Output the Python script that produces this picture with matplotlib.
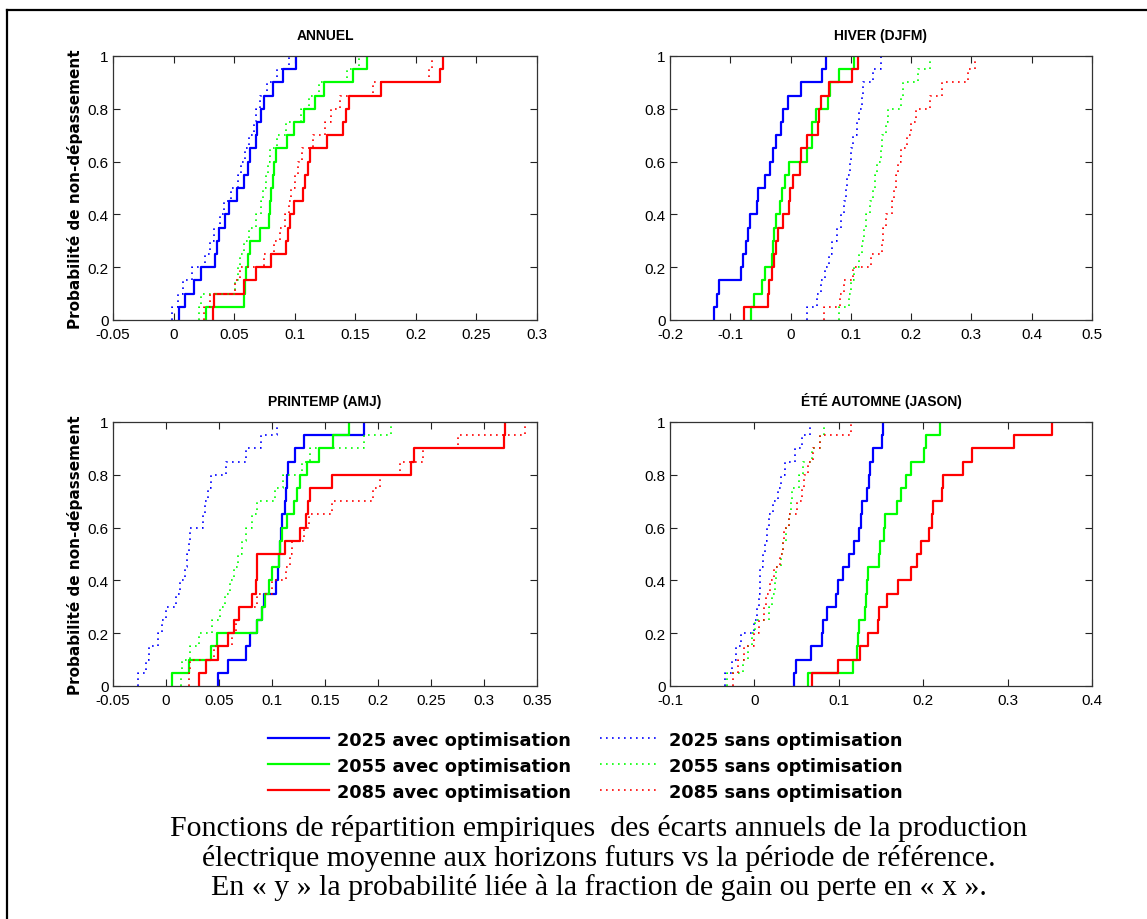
import numpy as np
import matplotlib
matplotlib.use("Agg")
import matplotlib.pyplot as plt
from matplotlib.lines import Line2D
from matplotlib.ticker import FuncFormatter, MultipleLocator

plt.rcParams['font.family'] = ['Liberation Sans', 'DejaVu Sans']

# ---------------- DATA (sorted yearly deviations, 20 years) ----------------
titles = ["ANNUEL", "HIVER (DJFM)", "PRINTEMP (AMJ)", "ÉTÉ AUTOMNE (JASON)"]
ylabel = "Probabilité de non-dépassement"
series_labels = ["2025 avec optimisation", "2055 avec optimisation", "2085 avec optimisation",
                 "2025 sans optimisation", "2055 sans optimisation", "2085 sans optimisation"]
xlims = [(-0.05, 0.3), (-0.2, 0.5), (-0.05, 0.35), (-0.1, 0.4)]
xsteps = [0.05, 0.1, 0.05, 0.1]

# ANNUEL
annuel_2025_avec = [0.0041, 0.0096, 0.0165, 0.0228, 0.0338, 0.0358, 0.0371, 0.0427, 0.0460, 0.0523,
                    0.0578, 0.0611, 0.0633, 0.0682, 0.0688, 0.0721, 0.0743, 0.0817, 0.0900, 0.1013]
annuel_2055_avec = [0.0270, 0.0578, 0.0592, 0.0600, 0.0611, 0.0633, 0.0710, 0.0784, 0.0793, 0.0806,
                    0.0820, 0.0831, 0.0845, 0.0936, 0.0991, 0.1079, 0.1170, 0.1244, 0.1480, 0.1596]
annuel_2085_avec = [0.0322, 0.0330, 0.0578, 0.0682, 0.0806, 0.0930, 0.0941, 0.0963, 0.0996, 0.1068,
                    0.1087, 0.1109, 0.1128, 0.1266, 0.1398, 0.1425, 0.1445, 0.1712, 0.2196, 0.2223]
annuel_2025_sans = [-0.001, 0.004, 0.008, 0.015, 0.026, 0.030, 0.033, 0.038, 0.042, 0.047,
                    0.053, 0.056, 0.059, 0.062, 0.066, 0.068, 0.071, 0.077, 0.085, 0.095]
annuel_2055_sans = [0.021, 0.023, 0.051, 0.053, 0.055, 0.058, 0.062, 0.068, 0.072, 0.074,
                    0.076, 0.078, 0.080, 0.085, 0.093, 0.105, 0.112, 0.120, 0.143, 0.153]
annuel_2085_sans = [0.025, 0.030, 0.051, 0.055, 0.075, 0.083, 0.088, 0.092, 0.095, 0.097,
                    0.100, 0.103, 0.106, 0.115, 0.125, 0.130, 0.137, 0.165, 0.211, 0.213]

# HIVER (DJFM)
hiver_2025_avec = [-0.1267, -0.1222, -0.1194, -0.0822, -0.0789, -0.0733, -0.0706, -0.0678, -0.0556, -0.0539,
                   -0.0417, -0.0344, -0.0289, -0.0250, -0.0167, -0.0122, -0.0044, 0.0167, 0.0517, 0.0583]
hiver_2055_avec = [-0.0650, -0.0611, -0.0472, -0.0417, -0.0306, -0.0289, -0.0267, -0.0250, -0.0178, -0.0139,
                   -0.0094, -0.0028, 0.0278, 0.0350, 0.0361, 0.0417, 0.0622, 0.0656, 0.0806, 0.1044]
hiver_2085_avec = [-0.0778, -0.0378, -0.0361, -0.0306, -0.0267, -0.0250, -0.0211, -0.0122, -0.0028, -0.0011,
                   0.0044, 0.0150, 0.0178, 0.0278, 0.0456, 0.0472, 0.0511, 0.0639, 0.1017, 0.1111]
hiver_2025_sans = [0.028, 0.044, 0.051, 0.057, 0.064, 0.069, 0.077, 0.083, 0.088, 0.092,
                   0.094, 0.099, 0.101, 0.104, 0.110, 0.114, 0.118, 0.120, 0.136, 0.150]
hiver_2055_sans = [0.081, 0.097, 0.100, 0.106, 0.114, 0.119, 0.122, 0.125, 0.131, 0.136,
                   0.140, 0.144, 0.150, 0.151, 0.158, 0.161, 0.183, 0.186, 0.211, 0.231]
hiver_2085_sans = [0.056, 0.082, 0.089, 0.104, 0.133, 0.152, 0.154, 0.158, 0.168, 0.171,
                   0.175, 0.178, 0.183, 0.193, 0.200, 0.208, 0.232, 0.251, 0.294, 0.306]

# PRINTEMP (AMJ)
printemps_2025_avec = [0.0495, 0.0583, 0.0753, 0.0788, 0.0857, 0.0904, 0.0920, 0.1040, 0.1055, 0.1068,
                       0.1077, 0.1084, 0.1093, 0.1125, 0.1131, 0.1141, 0.1147, 0.1219, 0.1298, 0.1871]
printemps_2055_avec = [0.0054, 0.0217, 0.0422, 0.0485, 0.0857, 0.0904, 0.0936, 0.0967, 0.0999, 0.1068,
                       0.1077, 0.1093, 0.1141, 0.1204, 0.1235, 0.1267, 0.1330, 0.1446, 0.1572, 0.1723]
printemps_2085_avec = [0.0315, 0.0378, 0.0495, 0.0589, 0.0643, 0.0693, 0.0810, 0.0851, 0.0857, 0.0863,
                       0.1125, 0.1260, 0.1323, 0.1339, 0.1361, 0.1566, 0.2313, 0.2344, 0.3188, 0.3195]
printemps_2025_sans = [-0.026, -0.019, -0.016, -0.008, -0.004, 0.000, 0.009, 0.013, 0.018, 0.020,
                       0.022, 0.023, 0.035, 0.037, 0.040, 0.042, 0.057, 0.075, 0.090, 0.105]
printemps_2055_sans = [0.014, 0.015, 0.023, 0.031, 0.043, 0.051, 0.056, 0.060, 0.064, 0.068,
                       0.072, 0.075, 0.081, 0.086, 0.103, 0.110, 0.128, 0.136, 0.187, 0.212]
printemps_2085_sans = [0.022, 0.023, 0.045, 0.062, 0.066, 0.069, 0.086, 0.100, 0.113, 0.117,
                       0.119, 0.130, 0.135, 0.157, 0.195, 0.202, 0.221, 0.242, 0.275, 0.339]

# ÉTÉ AUTOMNE (JASON)
ete_2025_avec = [0.047, 0.049, 0.067, 0.080, 0.081, 0.086, 0.097, 0.099, 0.105, 0.112,
                 0.118, 0.124, 0.126, 0.128, 0.134, 0.136, 0.137, 0.140, 0.151, 0.152]
ete_2055_avec = [0.063, 0.117, 0.122, 0.123, 0.124, 0.131, 0.132, 0.134, 0.135, 0.148,
                 0.149, 0.154, 0.155, 0.169, 0.174, 0.180, 0.185, 0.201, 0.203, 0.220]
ete_2085_avec = [0.068, 0.099, 0.125, 0.135, 0.147, 0.148, 0.157, 0.170, 0.185, 0.193,
                 0.197, 0.207, 0.210, 0.212, 0.222, 0.223, 0.247, 0.258, 0.308, 0.353]
ete_2025_sans = [-0.035, -0.026, -0.022, -0.016, -0.001, 0.003, 0.005, 0.007, 0.007, 0.010,
                 0.013, 0.015, 0.017, 0.022, 0.028, 0.032, 0.036, 0.048, 0.056, 0.066]
ete_2055_sans = [-0.033, -0.013, -0.007, -0.003, 0.001, 0.017, 0.021, 0.024, 0.026, 0.031,
                 0.034, 0.038, 0.041, 0.043, 0.044, 0.053, 0.058, 0.068, 0.078, 0.082]
ete_2085_sans = [-0.025, -0.020, -0.012, -0.001, 0.005, 0.011, 0.014, 0.019, 0.023, 0.030,
                 0.034, 0.035, 0.041, 0.051, 0.056, 0.059, 0.064, 0.070, 0.078, 0.115]

panels = [
    [annuel_2025_avec, annuel_2055_avec, annuel_2085_avec, annuel_2025_sans, annuel_2055_sans, annuel_2085_sans],
    [hiver_2025_avec, hiver_2055_avec, hiver_2085_avec, hiver_2025_sans, hiver_2055_sans, hiver_2085_sans],
    [printemps_2025_avec, printemps_2055_avec, printemps_2085_avec, printemps_2025_sans, printemps_2055_sans, printemps_2085_sans],
    [ete_2025_avec, ete_2055_avec, ete_2085_avec, ete_2025_sans, ete_2055_sans, ete_2085_sans],
]

caption_lines = [
    "Fonctions de répartition empiriques  des écarts annuels de la production",
    "électrique moyenne aux horizons futurs vs la période de référence.",
    "En « y » la probabilité liée à la fraction de gain ou perte en « x ».",
]

# ---------------- STYLE ----------------
colors = ["#0000ff", "#00ff00", "#ff0000", "#0000ff", "#00ff00", "#ff0000"]
solid = dict(linestyle="-", linewidth=1.6)
dotted = dict(linestyle=(0, (1, 2.6)), linewidth=1.2)
styles = [solid, solid, solid, dotted, dotted, dotted]

W, H = 1147, 920
fig = plt.figure(figsize=(W / 100, H / 100), dpi=100)

# axes boxes in pixels: (left, top, right, bottom)
boxes = [(113, 57, 537, 321), (670, 57, 1092, 321), (113, 423, 537, 687), (670, 423, 1092, 687)]

fmt = FuncFormatter(lambda v, p: ("%g" % round(v, 4)))
handles = []
for i, (box, data) in enumerate(zip(boxes, panels)):
    l, t, r, b = box
    ax = fig.add_axes([l / W, 1 - b / H, (r - l) / W, (b - t) / H])
    n = len(data[0])
    probs = np.linspace(0, 1, n + 1)
    for k, vals in enumerate(data):
        xs = np.sort(np.asarray(vals, dtype=float))
        line, = ax.step(np.r_[xs[0], xs], probs, where="post", color=colors[k],
                        label=series_labels[k], **styles[k])
        if i == 0:
            handles.append(line)
    ax.set_xlim(*xlims[i])
    ax.set_ylim(0, 1)
    ax.xaxis.set_major_locator(MultipleLocator(xsteps[i]))
    ax.yaxis.set_major_locator(MultipleLocator(0.2))
    ax.xaxis.set_major_formatter(fmt)
    ax.yaxis.set_major_formatter(fmt)
    ax.tick_params(direction="in", length=5, width=0.8, top=True, right=True,
                   labelsize=11, colors="#222222", labelcolor="black")
    ax.tick_params(axis="x", pad=5)
    ax.tick_params(axis="y", pad=3)
    for s in ax.spines.values():
        s.set_linewidth(0.9)
        s.set_color("#333333")
    ax.set_title(titles[i], fontsize=10, fontweight="bold", pad=12)
    if i in (0, 2):
        ax.set_ylabel(ylabel, fontsize=11, fontweight="bold",
                      family=["DejaVu Sans"])
        ax.yaxis.set_label_coords((83 - l) / (r - l), 0.5)

# legend
fig.legend(handles=handles, loc="center", bbox_to_anchor=(585.5 / W, 1 - 766.5 / H), ncol=2,
           frameon=False, prop=dict(weight="bold", size=12.8, family="DejaVu Sans"),
           handlelength=3.4, handletextpad=0.5, columnspacing=1.6, labelspacing=0.45)

# caption
for j, txt in enumerate(caption_lines):
    fig.text(599 / W, 1 - (829 + 29.5 * j) / H, txt, ha="center", va="center",
             fontsize=21.5, family=["Liberation Serif", "DejaVu Serif"])

# outer frame (top and left edges visible)
fig.add_artist(Line2D([7 / W, 1.0], [1 - 11 / H, 1 - 11 / H], transform=fig.transFigure,
                      color="black", linewidth=1.6))
fig.add_artist(Line2D([7 / W, 7 / W], [0.0, 1 - 11 / H], transform=fig.transFigure,
                      color="black", linewidth=1.6))

fig.savefig("out.png", dpi=100)
